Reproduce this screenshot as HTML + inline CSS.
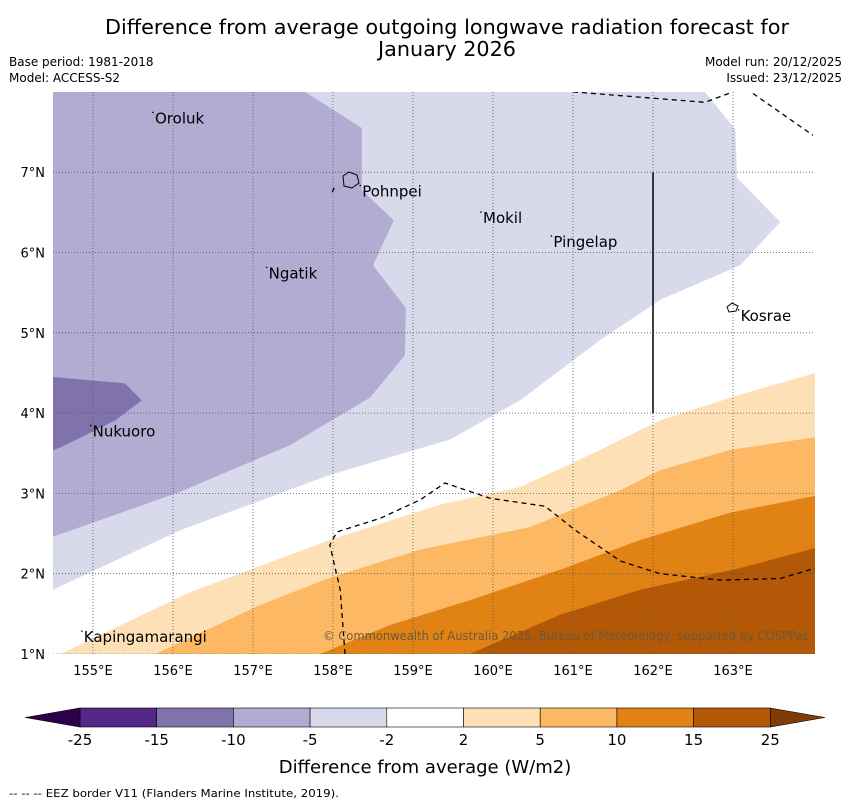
<!DOCTYPE html>
<html><head><meta charset="utf-8"><style>
body{margin:0;background:#fff;font-family:"Liberation Sans","DejaVu Sans",sans-serif}
svg text{font-family:"DejaVu Sans","Liberation Sans",sans-serif}
</style></head><body>
<svg id="c" width="850" height="804" viewBox="0 0 850 804" xmlns="http://www.w3.org/2000/svg">
<text x="447" y="34" font-size="20" text-anchor="middle" textLength="684" lengthAdjust="spacingAndGlyphs">Difference from average outgoing longwave radiation forecast for</text>
<text x="447" y="56" font-size="20" text-anchor="middle" textLength="138" lengthAdjust="spacingAndGlyphs">January 2026</text>
<text x="9" y="66" font-size="12">Base period: 1981-2018</text>
<text x="9" y="82" font-size="12">Model: ACCESS-S2</text>
<text x="842" y="66" font-size="12" text-anchor="end">Model run: 20/12/2025</text>
<text x="842" y="82" font-size="12" text-anchor="end">Issued: 23/12/2025</text>
<g id="map"></g>
<g id="cb"></g>
<text x="425" y="773" font-size="18" text-anchor="middle">Difference from average (W/m2)</text>
<text x="9" y="797" font-size="11" textLength="330" lengthAdjust="spacingAndGlyphs">--  --  -- EEZ border V11 (Flanders Marine Institute, 2019).</text>
</svg>
<script>
const lonTicks=[155,156,157,158,159,160,161,162,163];
const latTicks=[1,2,3,4,5,6,7];
const cbLevels=["-25","-15","-10","-5","-2","2","5","10","15","25"];
const cbColors=["#542788","#8073ac","#b2abd2","#d8daeb","#ffffff","#fee0b6","#fdb863","#e08214","#b35806"];
const lavender=[[154.5,8.0],[162.65,8.0],[163.03,7.53],[163.05,6.93],[163.59,6.38],[163.09,5.84],[162.09,5.41],[161.34,4.91],[160.34,4.16],[159.46,3.67],[157.96,3.23],[156.09,2.54],[154.5,1.8]];
const purple=[[154.5,8.0],[157.65,8.0],[158.36,7.55],[158.36,6.78],[158.76,6.4],[158.5,5.84],[158.91,5.31],[158.9,4.72],[158.46,4.19],[157.46,3.6],[156.09,3.02],[154.5,2.46]];
const darkPurple=[[154.5,4.45],[155.4,4.37],[155.61,4.16],[155.28,3.91],[154.59,3.57],[154.5,3.54]];
const orange1=[[164.03,4.5],[163.09,4.23],[162.09,3.91],[161.21,3.48],[160.34,3.08],[159.34,2.86],[157.96,2.42],[156.21,1.77],[154.59,1.0],[164.03,1.0]];
const orange2=[[164.03,3.7],[162.96,3.54],[162.09,3.29],[161.59,3.04],[160.46,2.58],[159.09,2.3],[157.96,1.95],[157.09,1.61],[155.78,1.0],[164.03,1.0]];
const orange3=[[164.03,2.97],[162.96,2.76],[161.84,2.42],[160.84,2.05],[159.71,1.67],[158.71,1.36],[157.84,1.0],[164.03,1.0]];
const orange4=[[164.03,2.32],[163.09,2.07],[161.84,1.8],[160.84,1.49],[159.71,1.0],[164.03,1.0]];
const eezTop=[[161.0,8.0],[162.65,7.87],[163.0,8.0]];
const eezTop2=[[163.25,7.98],[164.0,7.46]];
const eezPohnpei=[[157.99,6.75],[158.03,6.84]];
const eezBottom=[[158.15,1.0],[158.09,1.8],[157.96,2.36],[158.05,2.52],[158.59,2.69],[159.09,2.92],[159.4,3.13],[159.96,2.94],[160.65,2.84],[161.03,2.54],[161.59,2.16],[162.09,2.0],[162.84,1.92],[163.59,1.94],[164.03,2.07]];
const islands=[["Oroluk",155.75,7.67],["Pohnpei",158.34,6.76],["Mokil",159.85,6.43],["Pingelap",160.73,6.13],["Ngatik",157.17,5.74],["Kosrae",163.07,5.21],["Nukuoro",154.97,3.77],["Kapingamarangi",154.86,1.21]];
const X=lon=>53+(lon-154.5)*80, Y=lat=>654-(lat-1)*80.3;
const NS="http://www.w3.org/2000/svg";
const map=document.getElementById('map'), cb=document.getElementById('cb');
function mk(t,a,p){const e=document.createElementNS(NS,t);for(const k in a)e.setAttribute(k,a[k]);p.appendChild(e);return e;}
const pts=a=>a.map(p=>X(p[0]).toFixed(1)+','+Y(p[1]).toFixed(1)).join(' ');
const defs=mk('defs',{},map);const cp=mk('clipPath',{id:'clip'},defs);mk('rect',{x:53,y:92,width:762,height:562},cp);
const g=mk('g',{'clip-path':'url(#clip)'},map);
const layers=[[lavender,'#d8daeb','lavender-region'],[purple,'#b2abd2','purple-region'],[darkPurple,'#8073ac','dark-purple-region'],[orange1,'#fee0b6','orange-2-5-region'],[orange2,'#fdb863','orange-5-10-region'],[orange3,'#e08214','orange-10-15-region'],[orange4,'#b35806','orange-15-25-region']];
layers.forEach(l=>{const e=mk('polygon',{points:pts(l[0]),fill:l[1]},g);

});
lonTicks.forEach(v=>{const e=mk('line',{x1:X(v),x2:X(v),y1:92,y2:654,stroke:'#555','stroke-width':0.8,'stroke-dasharray':'1,2'},g);


const t=mk('text',{x:X(v),y:675,'font-size':13,'text-anchor':'middle'},map);t.textContent=v+'°E';

});
latTicks.forEach(v=>{const e=mk('line',{x1:53,x2:815,y1:Y(v),y2:Y(v),stroke:'#555','stroke-width':0.8,'stroke-dasharray':'1,2'},g);


const t=mk('text',{x:45,y:Y(v)+5,'font-size':13,'text-anchor':'end'},map);t.textContent=v+'°N';

});
[eezTop,eezTop2,eezPohnpei,eezBottom].forEach(a=>{const e=mk('polyline',{points:pts(a),fill:'none',stroke:'#000','stroke-width':1.3,'stroke-dasharray':'5,4'},g);

});
const vl=mk('line',{x1:X(162),x2:X(162),y1:Y(7),y2:Y(4),stroke:'#000','stroke-width':1.5},g);


islands.forEach(d=>{const t=mk('text',{x:X(d[1])+2,y:Y(d[2])+5,'font-size':15},g);t.textContent=d[0];


mk('circle',{cx:X(d[1]),cy:Y(d[2])-6,r:0.8,fill:'#000'},g);});
mk('path',{d:'M343,176 l6,-4 l8,3 l2,8 l-7,5 l-8,-2 z',fill:'none',stroke:'#000','stroke-width':1},g);
mk('path',{d:'M727,307 l5,-4 l6,3 l-2,5 l-7,1 z',fill:'none',stroke:'#000','stroke-width':1},g);
const cr=mk('text',{x:323,y:640,'font-size':12,fill:'#6b5a3a',textLength:486,lengthAdjust:'spacingAndGlyphs'},g);cr.textContent='© Commonwealth of Australia 2025, Bureau of Meteorology, supported by COSPPac';


const cbX0=80,cbW=76.7,cbY=708,cbH=19;
cbColors.forEach((c,i)=>{const e=mk('rect',{x:cbX0+i*cbW,y:cbY,width:cbW,height:cbH,fill:c,stroke:'#000','stroke-width':0.6},cb);

});
const lt=mk('polygon',{points:`25,717.5 ${cbX0},${cbY} ${cbX0},${cbY+cbH}`,fill:'#2d004b',stroke:'#000','stroke-width':0.6},cb);


const xe=cbX0+cbColors.length*cbW;
const rt=mk('polygon',{points:`${xe},${cbY} 825,717.5 ${xe},${cbY+cbH}`,fill:'#7f3b08',stroke:'#000','stroke-width':0.6},cb);


cbLevels.forEach((l,i)=>{const t=mk('text',{x:cbX0+i*cbW,y:745,'font-size':15,'text-anchor':'middle'},cb);t.textContent=l;

});
</script>
</body></html>
